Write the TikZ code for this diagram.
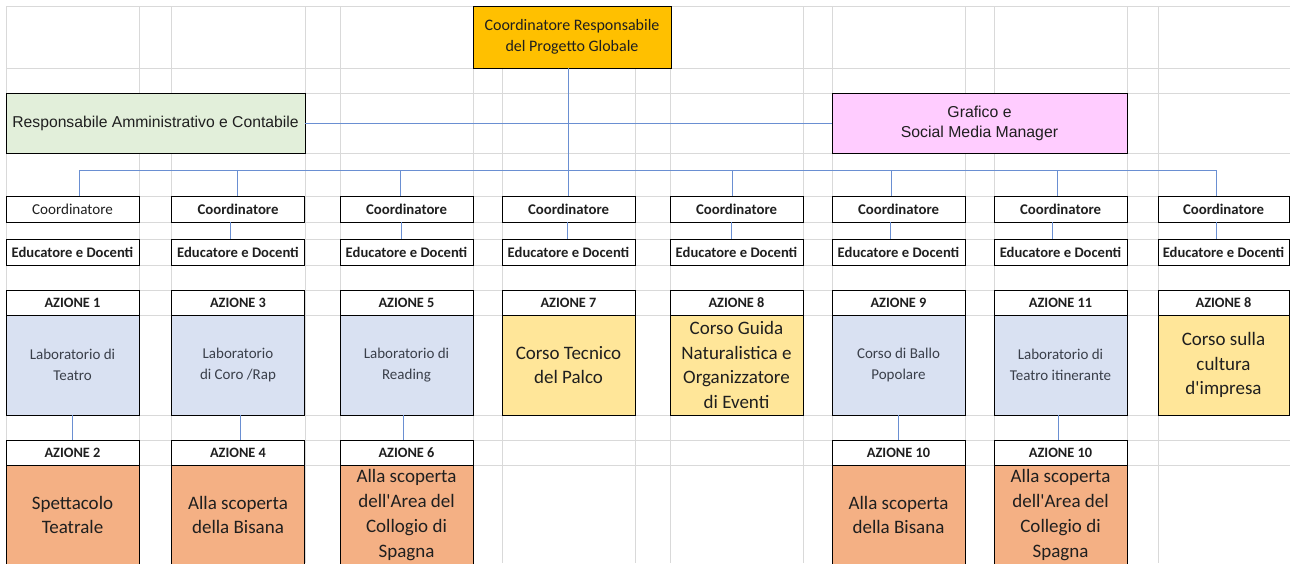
\documentclass[tikz,border=0pt]{standalone}
\usepackage{fontspec}
\setmainfont{Carlito}
\newfontfamily\arialf{Liberation Sans}
\definecolor{gridc}{HTML}{D9D9D9}
\definecolor{conn}{HTML}{6A8FD2}
\definecolor{topfill}{HTML}{FFC000}
\definecolor{greenfill}{HTML}{E2EFDA}
\definecolor{pinkfill}{HTML}{FFCCFF}
\definecolor{bluefill}{HTML}{D9E1F2}
\definecolor{yelfill}{HTML}{FFE699}
\definecolor{salfill}{HTML}{F4B084}
\definecolor{txtdark}{HTML}{1F1F1F}
\definecolor{txtblue}{HTML}{3A3F4A}
\tikzset{
  box/.style={draw=black, line width=1pt, rectangle, inner sep=0pt, outer sep=0pt, align=center, text=txtdark},
  coordbox/.style={box, fill=white, minimum width=133pt, minimum height=26pt, font=\fontsize{14.8}{16}\selectfont\bfseries},
  edubox/.style={box, fill=white, minimum width=133pt, minimum height=26pt, font=\fontsize{14.6}{16}\selectfont\bfseries},
  hdbox/.style={box, fill=white, minimum width=133pt, minimum height=25pt, font=\fontsize{14.3}{16}\selectfont\bfseries},
  bluebox/.style={box, fill=bluefill, minimum width=133pt, minimum height=100pt, text=txtblue, font=\fontsize{15}{20.5}\selectfont},
  yelbox/.style={box, fill=yelfill, minimum width=133pt, minimum height=100pt, font=\fontsize{19}{24.8}\selectfont},
  salbox/.style={box, fill=salfill, minimum width=133pt, minimum height=100pt, font=\fontsize{19}{24.8}\selectfont},
  link/.style={draw=conn, line width=1pt},
  gridline/.style={draw=gridc, line width=1pt}
}
\begin{document}
\begin{tikzpicture}[x=1pt,y=-1pt]
\useasboundingbox (0,0) rectangle (1290,563);
\clip (0,0) rectangle (1290,563);
\fill[white] (0,0) rectangle (1290,563);
% spreadsheet grid
\foreach \gx in {6,139,171,305,340,473,502,635,670,803,832,965,994,1127,1158}
  \draw[gridline] (\gx,6) -- (\gx,563);
\foreach \gy in {6,68,93,153,196,222,239,265,290,315,415,440,465}
  \draw[gridline] (6,\gy) -- (1290,\gy);

% top level
\node[box, fill=topfill, minimum width=198pt, minimum height=62pt, font=\fontsize{16}{21.5}\selectfont] (top) at (572,37) {Coordinatore Responsabile\\del Progetto Globale};
\node[box, fill=greenfill, minimum width=299pt, minimum height=60pt, font=\arialf\fontsize{15.7}{20}\selectfont] (ra) at (155.5,123) {Responsabile Amministrativo e Contabile};
\node[box, fill=pinkfill, minimum width=295pt, minimum height=60pt, font=\arialf\fontsize{15.8}{20}\selectfont] (gr) at (979.5,123) {Grafico e\\Social Media Manager};

% coordinator row
\node[coordbox, font=\fontsize{15.1}{16}\selectfont] (c1) at (72.5,209) {Coordinatore};
\node[coordbox] (c2) at (238,209) {Coordinatore};
\node[coordbox] (c3) at (406.5,209) {Coordinatore};
\node[coordbox] (c4) at (568.5,209) {Coordinatore};
\node[coordbox] (c5) at (736.5,209) {Coordinatore};
\node[coordbox] (c6) at (898.5,209) {Coordinatore};
\node[coordbox] (c7) at (1060.5,209) {Coordinatore};
\node[coordbox, minimum width=131pt] (c8) at (1223.5,209) {Coordinatore};

% educator row
\node[edubox] (e1) at (72.5,252) {Educatore e Docenti};
\node[edubox] (e2) at (238,252) {Educatore e Docenti};
\node[edubox] (e3) at (406.5,252) {Educatore e Docenti};
\node[edubox] (e4) at (568.5,252) {Educatore e Docenti};
\node[edubox] (e5) at (736.5,252) {Educatore e Docenti};
\node[edubox] (e6) at (898.5,252) {Educatore e Docenti};
\node[edubox] (e7) at (1060.5,252) {Educatore e Docenti};
\node[edubox, minimum width=131pt] (e8) at (1223.5,252) {Educatore e Docenti};

% action headers
\node[hdbox] (h1) at (72.5,302.5) {AZIONE 1};
\node[hdbox] (h2) at (238,302.5) {AZIONE 3};
\node[hdbox] (h3) at (406.5,302.5) {AZIONE 5};
\node[hdbox] (h4) at (568.5,302.5) {AZIONE 7};
\node[hdbox] (h5) at (736.5,302.5) {AZIONE 8};
\node[hdbox] (h6) at (898.5,302.5) {AZIONE 9};
\node[hdbox] (h7) at (1060.5,302.5) {AZIONE 11};
\node[hdbox, minimum width=131pt] (h8) at (1223.5,302.5) {AZIONE 8};

% action contents
\node[bluebox] (b1) at (72.5,365) {Laboratorio di\\Teatro};
\node[bluebox] (b2) at (238,365) {Laboratorio\\di Coro /Rap};
\node[bluebox] (b3) at (406.5,365) {Laboratorio di\\Reading};
\node[yelbox] (b4) at (568.5,365) {Corso Tecnico\\del Palco};
\node[yelbox] (b5) at (736.5,365) {Corso Guida\\Naturalistica e\\Organizzatore\\di Eventi};
\node[bluebox] (b6) at (898.5,365) {Corso di Ballo\\Popolare};
\node[bluebox] (b7) at (1060.5,365) {Laboratorio di\\Teatro itinerante};
\node[yelbox, minimum width=131pt] (b8) at (1223.5,365) {Corso sulla\\cultura\\d\textquotesingle impresa};

% lower headers
\node[hdbox] (l1) at (72.5,452.5) {AZIONE 2};
\node[hdbox] (l2) at (238,452.5) {AZIONE 4};
\node[hdbox] (l3) at (406.5,452.5) {AZIONE 6};
\node[hdbox] (l6) at (898.5,452.5) {AZIONE 10};
\node[hdbox] (l7) at (1060.5,452.5) {AZIONE 10};

% lower contents
\node[salbox] (s1) at (72.5,515) {Spettacolo\\Teatrale};
\node[salbox] (s2) at (238,515) {Alla scoperta\\della Bisana};
\node[salbox] (s3) at (406.5,515) {Alla scoperta\\dell\textquotesingle Area del\\Collogio di\\Spagna};
\node[salbox] (s6) at (898.5,515) {Alla scoperta\\della Bisana};
\node[salbox] (s7) at (1060.5,515) {Alla scoperta\\dell\textquotesingle Area del\\Collegio di\\Spagna};

% connectors
\draw[link] (ra.east) -- (gr.west);
\draw[link] ([xshift=-4pt]top.south) -- ([xshift=-0.5pt]c4.north);
\coordinate (busL) at (79,170);
\coordinate (busR) at (1216,170);
\draw[link] (busL) -- (busR);
\foreach \n/\d in {1/6.5,2/-1,3/-6.5,4/0,5/-4.5,6/-7.5,7/-3.5,8/-7.5}{
  \coordinate (d\n) at ([xshift=\d pt]c\n.north);
  \draw[link] (d\n) -- (d\n |- busL);
}
\foreach \n/\d in {2/-8,3/-5.5,4/-1.5,5/-5.5,6/-8.5,7/-8.5,8/-7.5}{
  \draw[link] ([xshift=\d pt]c\n.south) -- ([xshift=\d pt]e\n.north);
}
\foreach \a/\b/\d in {b1/l1/0,b2/l2/2,b3/l3/-3.5,b6/l6/0,b7/l7/-2.5}{
  \draw[link] ([xshift=\d pt]\a.south) -- ([xshift=\d pt]\b.north);
}
\end{tikzpicture}
\end{document}
